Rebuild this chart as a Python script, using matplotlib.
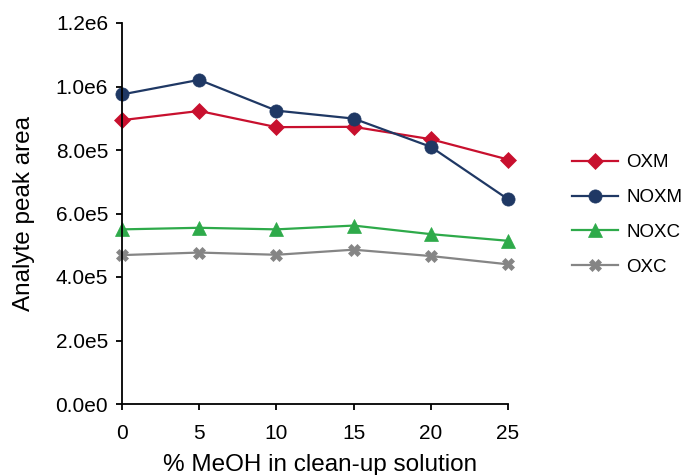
import matplotlib
matplotlib.use("Agg")
import matplotlib.pyplot as plt

plt.rcParams['font.family'] = ['Liberation Sans', 'DejaVu Sans']

meoh = [0, 5, 10, 15, 20, 25]
oxm = [0.894e6, 0.923e6, 0.872e6, 0.873e6, 0.834e6, 0.770e6]
noxm = [0.975e6, 1.021e6, 0.924e6, 0.899e6, 0.810e6, 0.645e6]
noxc = [0.550e6, 0.555e6, 0.550e6, 0.562e6, 0.535e6, 0.514e6]
oxc = [0.469e6, 0.477e6, 0.470e6, 0.486e6, 0.466e6, 0.440e6]

yticks = [0, 2e5, 4e5, 6e5, 8e5, 1.0e6, 1.2e6]
ytick_labels = ["0.0e0", "2.0e5", "4.0e5", "6.0e5", "8.0e5", "1.0e6", "1.2e6"]
xticks = [0, 5, 10, 15, 20, 25]

fig = plt.figure(figsize=(6.81, 4.75), dpi=100)
ax = fig.add_axes([122/681, 1-404/475, (508-122)/681, (404-23)/475])

series = [
    ("OXM", oxm, "#C8102E", "D", 8),
    ("NOXM", noxm, "#1F3864", "o", 9.5),
    ("NOXC", noxc, "#2EAA4A", "^", 9.5),
    ("OXC", oxc, "#858585", "X", 8.5),
]
for name, vals, col, mk, ms in series:
    ax.plot(meoh, vals, color=col, marker=mk, markersize=ms, linewidth=1.6,
            label=name, clip_on=False, markeredgewidth=0.5, markeredgecolor=col)

ax.set_xlim(0, 25)
ax.set_ylim(0, 1.2e6)
ax.set_xticks(xticks)
ax.set_yticks(yticks)
ax.set_yticklabels(ytick_labels)
for s in ("top", "right"):
    ax.spines[s].set_visible(False)
for s in ("left", "bottom"):
    ax.spines[s].set_linewidth(1.3)
ax.tick_params(axis='both', direction='out', length=4, width=1.3, labelsize=15)
ax.tick_params(axis='x', pad=10.5)
ax.tick_params(axis='y', pad=6)
ax.set_xlabel("% MeOH in clean-up solution", fontsize=17.5)
ax.xaxis.set_label_coords(0.513, -0.132)
ax.set_ylabel("Analyte peak area", fontsize=17.5, labelpad=15)

fig.legend(loc='center left', bbox_to_anchor=(572/681, 1-215/475), frameon=False,
           fontsize=13.5, handlelength=2.45, handletextpad=0.45, labelspacing=0.95,
           borderpad=0, borderaxespad=0)

fig.savefig("out.png", dpi=100)
